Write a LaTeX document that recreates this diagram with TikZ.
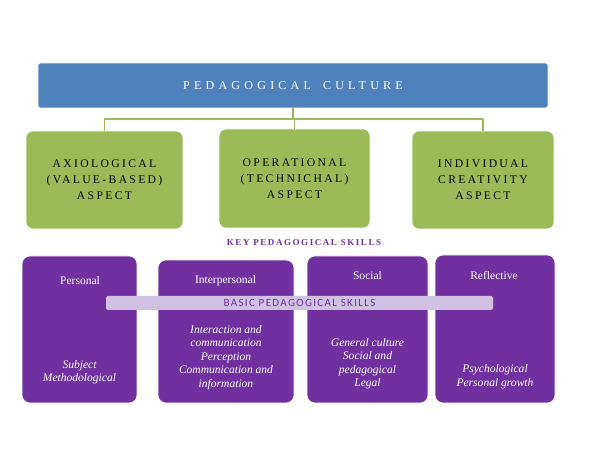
\documentclass[tikz,border=0pt]{standalone}
\usepackage{fontspec}
\setmainfont{Liberation Serif}
\setsansfont{Carlito}
\usetikzlibrary{calc}
\definecolor{culture}{HTML}{4F81BD}
\definecolor{aspect}{HTML}{9BBB59}
\definecolor{skill}{HTML}{7030A0}
\definecolor{band}{HTML}{D0C0E2}

\begin{document}
\begin{tikzpicture}[line join=round,
  aspectbox/.style={fill=aspect,draw=white,line width=.6pt,rounded corners=7pt,
    align=center,inner sep=0pt,
    font=\fontsize{11.6}{16}\selectfont\addfontfeatures{LetterSpace=20}},
  skillbox/.style={fill=skill,draw=white,line width=.6pt,rounded corners=8pt,inner sep=0pt},
  skilltitle/.style={text=white,anchor=base,font=\fontsize{11.5}{14}\selectfont},
  skilllist/.style={text=white,align=center,font=\fontsize{11.5}{13.5}\selectfont\itshape},
  link/.style={aspect,line width=1.3pt}]
  \useasboundingbox (0,0) rectangle (21,15.785);

  % top: culture
  \node[fill=culture,draw=white,line width=.6pt,rounded corners=2.5pt,
    minimum width=17.85cm,minimum height=1.575cm,text=white,
    font=\fontsize{12}{14}\selectfont\addfontfeatures{LetterSpace=35}]
    (culture) at (10.255,12.7925) {PEDAGOGICAL\quad CULTURE};

  % aspects
  \node[aspectbox,minimum width=5.495cm,minimum height=3.43cm]
    (axio) at (3.6575,9.485) {AXIOLOGICAL\\(VALUE-BASED)\\ASPECT};
  \node[aspectbox,minimum width=5.285cm,minimum height=3.465cm]
    (oper) at (10.3075,9.5375) {OPERATIONAL\\(TECHNICHAL)\\ASPECT};
  \node[aspectbox,minimum width=4.97cm,minimum height=3.43cm]
    (crea) at (16.905,9.485) {INDIVIDUAL\\CREATIVITY\\ASPECT};

  \coordinate (bus) at (0,11.62);
  \draw[link] (culture.south) -- (culture.south |- bus);
  \draw[link] (axio.north) |- (crea.north |- bus) -- (crea.north);
  \draw[link] (oper.north) -- (oper.north |- bus);

  \node[text=skill,font=\fontsize{9}{11}\selectfont\bfseries\addfontfeatures{LetterSpace=17}]
    (key) at (10.64,7.28) {KEY PEDAGOGICAL SKILLS};

  % skills
  \node[skillbox,minimum width=4.025cm,minimum height=5.145cm] (pers) at (2.7825,4.2525) {};
  \node[skillbox,minimum width=4.76cm,minimum height=5.005cm] (inter) at (7.91,4.1825) {};
  \node[skillbox,minimum width=4.235cm,minimum height=5.145cm] (soc) at (12.8625,4.2525) {};
  \node[skillbox,minimum width=4.2cm,minimum height=5.18cm] (refl) at (17.325,4.27) {};

  \node[skilltitle] (perst) at (2.8,5.81) {Personal};
  \node[skilltitle] (intert) at (7.8925,5.845) {Interpersonal};
  \node[skilltitle] (soct) at (12.8625,5.985) {Social};
  \node[skilltitle] (reflt) at (17.29,5.985) {Reflective};

  \node[skilllist] (persl) at (2.7825,2.75) {Subject\\Methodological};
  \node[skilllist] (interl) at (7.91,3.27)
    {Interaction and\\communication\\Perception\\Communication and\\information};
  \node[skilllist] (socl) at (12.8625,3.06)
    {General culture\\Social and\\pedagogical\\Legal};
  \node[skilllist] (refll) at (17.325,2.59) {Psychological\\Personal growth};

  \node[fill=band,rounded corners=2pt,minimum width=13.545cm,minimum height=.49cm,
    inner sep=0pt,text=skill,font=\fontsize{11}{12}\sffamily\addfontfeatures{LetterSpace=12}]
    (basic) at (10.4825,5.18) {BASIC PEDAGOGICAL SKILLS};
\end{tikzpicture}
\end{document}
